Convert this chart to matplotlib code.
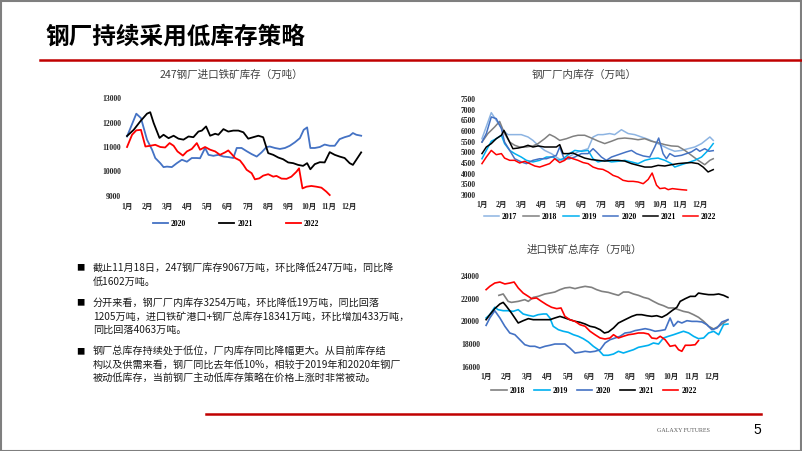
import matplotlib
matplotlib.use('Agg')
import matplotlib.pyplot as plt
from matplotlib.lines import Line2D
from matplotlib.patches import Rectangle

W, H = 802, 451

months = ['1月', '2月', '3月', '4月', '5月', '6月', '7月', '8月', '9月', '10月', '11月', '12月']

# ---- 247 steel mills imported ore stock (x in months from Jan) ----
c1_2020_x = [0, 0.46, 0.69, 0.99, 1.24, 1.40, 1.65, 1.81, 1.98, 2.22, 2.47, 2.72, 2.97, 3.21, 3.46, 3.62,
             3.87, 4.04, 4.28, 4.53, 4.78, 5.02, 5.27, 5.44, 5.68, 5.93, 6.18, 6.43, 6.67, 6.92, 7.08, 7.33,
             7.58, 7.83, 8.07, 8.32, 8.57, 8.76, 8.93, 9.09, 9.31, 9.56, 9.80, 10.05, 10.30, 10.54, 10.79,
             11.04, 11.20, 11.37, 11.61]
c1_2020 = [11430, 12360, 12180, 11300, 10890, 10550, 10340, 10180, 10200, 10180, 10340, 10480, 10400,
           10550, 10550, 10540, 10960, 10680, 10640, 10680, 10610, 10590, 10550, 10960, 10960, 10830,
           10710, 10610, 10780, 11000, 11020, 10960, 10920, 10960, 11050, 11190, 11360, 11700, 11800,
           10960, 10960, 11000, 11100, 11050, 11050, 11320, 11400, 11460, 11570, 11500, 11460]
c1_2021_x = [0, 0.33, 0.66, 0.99, 1.15, 1.32, 1.61, 1.81, 2.06, 2.31, 2.55, 2.80, 3.05, 3.29, 3.54, 3.71,
             3.92, 4.12, 4.37, 4.53, 4.78, 5.02, 5.27, 5.52, 5.77, 6.01, 6.26, 6.51, 6.75, 7.00, 7.25, 7.50,
             7.74, 7.99, 8.24, 8.48, 8.73, 8.93, 9.09, 9.31, 9.56, 9.80, 10.05, 10.30, 10.54, 10.79, 11.04,
             11.20, 11.37, 11.61]
c1_2021 = [11450, 11700, 12050, 12360, 12420, 11980, 11370, 11500, 11360, 11460, 11340, 11300, 11430,
           11400, 11630, 11670, 11840, 11460, 11540, 11500, 11730, 11630, 11670, 11670, 11600, 11340,
           11400, 11460, 11400, 10750, 10680, 10570, 10500, 10370, 10340, 10270, 10230, 10340, 10090,
           10300, 10380, 10370, 10790, 10680, 10610, 10550, 10340, 10270, 10480, 10780]
c1_2022_x = [0, 0.25, 0.46, 0.69, 0.91, 1.15, 1.40, 1.65, 1.89, 2.11, 2.31, 2.50, 2.77, 2.97, 3.21, 3.46,
             3.62, 3.87, 4.12, 4.37, 4.61, 4.86, 5.02, 5.19, 5.36, 5.60, 5.77, 5.93, 6.18, 6.34, 6.56, 6.75,
             7.00, 7.25, 7.41, 7.66, 7.91, 8.15, 8.40, 8.53, 8.70, 8.90, 9.14, 9.39, 9.64, 9.88, 10.05]
c1_2022 = [11000, 11500, 11680, 11700, 11020, 11050, 11090, 11000, 10980, 11160, 11050, 10820, 10650,
           10820, 10920, 11160, 10890, 11000, 10890, 10820, 10680, 10780, 10860, 10710, 10550, 10450,
           10270, 10070, 9930, 9680, 9720, 9830, 9890, 9790, 9820, 9710, 9700, 9790, 9990, 10130, 9310,
           9380, 9410, 9380, 9340, 9180, 9040]

# ---- steel mill in-plant stock ----
c2_2017_x = [0, 0.47, 0.72, 1.06, 1.31, 1.65, 1.98, 2.32, 2.57, 2.83, 3.16, 3.50, 3.75, 4.00, 4.26, 4.51,
             4.84, 5.35, 5.60, 5.85, 6.10, 6.44, 6.69, 7.03, 7.37, 7.70, 8.04, 8.38, 8.71, 9.05, 9.39, 9.72,
             10.06, 10.39, 10.73, 11.07, 11.49, 11.66]
c2_2017 = [5640, 6860, 6500, 6030, 5830, 5830, 5830, 5720, 5560, 5330, 5090, 4940, 4780, 4625, 4700, 4860,
           5020, 5170, 5720, 5830, 5830, 5880, 5830, 6060, 5880, 5830, 5720, 5610, 5480, 5330, 5170, 5050,
           5090, 5170, 5250, 5410, 5720, 5560]
c2_2018_x = [0, 0.30, 0.64, 0.89, 1.14, 1.40, 1.65, 1.90, 2.24, 2.57, 2.83, 3.16, 3.41, 3.67, 3.92, 4.26,
             4.59, 4.84, 5.18, 5.52, 5.85, 6.19, 6.53, 6.86, 7.20, 7.54, 7.87, 8.21, 8.54, 8.88, 9.22, 9.55,
             9.89, 10.23, 10.56, 10.90, 11.23, 11.49, 11.66]
c2_2018 = [5480, 5880, 6190, 6450, 5880, 5480, 5330, 5250, 5250, 5300, 5410, 5640, 5840, 5720, 5560, 5640,
           5750, 5800, 5800, 5670, 5530, 5410, 5520, 5640, 5670, 5640, 5590, 5640, 5520, 5450, 5360, 5300,
           5280, 5090, 4860, 4625, 4420, 4625, 4700]
c2_2019_x = [0, 0.22, 0.47, 0.72, 0.98, 1.14, 1.40, 1.65, 1.98, 2.24, 2.57, 2.91, 3.25, 3.58, 3.83, 4.09,
             4.42, 4.68, 5.01, 5.35, 5.60, 5.85, 6.19, 6.53, 6.86, 7.20, 7.54, 7.87, 8.21, 8.54, 8.88, 9.22,
             9.55, 9.72, 10.06, 10.39, 10.73, 11.07, 11.40, 11.66]
c2_2019 = [4700, 5090, 5520, 5640, 5800, 5410, 5090, 4940, 4780, 4625, 4550, 4625, 4780, 4780, 4625, 4700,
           4940, 5090, 5050, 5090, 4700, 4550, 4625, 4550, 4580, 4625, 4550, 4470, 4625, 4700, 4730, 4625,
           4470, 4310, 4420, 4520, 4625, 4780, 5090, 5410]
c2_2020_x = [0, 0.22, 0.47, 0.72, 0.98, 1.14, 1.40, 1.65, 1.98, 2.24, 2.57, 2.91, 3.25, 3.50, 3.75, 3.92,
             4.14, 4.42, 4.68, 5.01, 5.35, 5.60, 5.77, 6.02, 6.27, 6.53, 6.78, 7.03, 7.28, 7.54, 7.79, 8.13,
             8.46, 8.71, 8.91, 9.13, 9.30, 9.47, 9.72, 10.06, 10.31, 10.56, 10.81, 10.98, 11.23, 11.45, 11.66]
c2_2020 = [5480, 5880, 6660, 6580, 6110, 5480, 5090, 4700, 4550, 4470, 4625, 4700, 4700, 4780, 4860, 5250,
           4700, 4700, 4780, 4940, 4940, 5170, 5020, 4780, 4625, 4780, 4860, 4940, 5020, 5090, 4940, 4830,
           4780, 5250, 5670, 4940, 4700, 4940, 4810, 4860, 4940, 5020, 5170, 5050, 5170, 5050, 5080]
c2_2021_x = [0, 0.22, 0.47, 0.72, 0.98, 1.11, 1.31, 1.56, 1.82, 2.07, 2.32, 2.57, 2.83, 3.16, 3.50, 3.75,
             3.92, 4.09, 4.34, 4.59, 4.84, 5.18, 5.52, 5.85, 6.19, 6.53, 6.86, 7.20, 7.54, 7.87, 8.21, 8.54,
             8.88, 9.22, 9.55, 9.89, 10.23, 10.56, 10.90, 11.15, 11.40, 11.66]
c2_2021 = [4940, 5250, 5410, 5640, 5800, 6030, 5640, 5170, 5200, 5250, 5330, 5250, 5300, 5250, 5250, 5250,
           5360, 4940, 4940, 4970, 4860, 4730, 4660, 4625, 4590, 4625, 4625, 4590, 4470, 4390, 4310, 4310,
           4390, 4360, 4420, 4470, 4500, 4520, 4470, 4310, 4080, 4190]
c2_2022_x = [0, 0.22, 0.47, 0.72, 0.98, 1.14, 1.40, 1.65, 1.90, 2.15, 2.41, 2.66, 2.91, 3.16, 3.41, 3.67,
             3.92, 4.17, 4.34, 4.59, 4.84, 5.10, 5.35, 5.60, 5.85, 6.10, 6.36, 6.61, 6.86, 7.11, 7.37, 7.62,
             7.87, 8.13, 8.38, 8.58, 8.80, 8.97, 9.22, 9.39, 9.60, 9.86, 10.06, 10.31]
c2_2022 = [4470, 4780, 5090, 4890, 4940, 4730, 4625, 4625, 4500, 4580, 4470, 4360, 4310, 4390, 4470, 4700,
           4520, 4625, 4780, 4700, 4625, 4520, 4470, 4310, 4230, 4200, 4080, 3920, 3840, 3690, 3640, 3640,
           3610, 3530, 3730, 4030, 3460, 3300, 3330, 3250, 3300, 3270, 3250, 3230]

# ---- imported ore total stock ----
c3_2018_x = [0.62, 0.83, 1.07, 1.23, 1.56, 1.88, 2.05, 2.29, 2.53, 2.86, 3.10, 3.34, 3.59, 3.83, 4.07, 4.32,
             4.56, 4.81, 5.13, 5.37, 5.62, 5.94, 6.19, 6.43, 6.67, 6.92, 7.16, 7.40, 7.65, 7.89, 8.13, 8.38,
             8.62, 8.86, 9.11, 9.35, 9.59, 9.84, 10.08, 10.32, 10.57, 10.81, 11.06, 11.30, 11.54, 11.75]
c3_2018 = [22300, 22420, 21770, 21680, 21770, 21920, 21770, 22120, 22210, 22420, 22500, 22590, 22800,
           22950, 23000, 22890, 23000, 23090, 23000, 22800, 22650, 22560, 22420, 22300, 22590, 22590,
           22420, 22300, 22120, 22010, 21770, 21540, 21390, 21190, 21190, 21040, 20890, 20800, 20600,
           20370, 20015, 19580, 19340, 19580, 19870, 20160]
c3_2019_x = [0, 0.18, 0.42, 0.58, 0.83, 1.07, 1.31, 1.56, 1.80, 2.05, 2.29, 2.53, 2.78, 2.94, 3.10, 3.26,
             3.51, 3.75, 3.99, 4.24, 4.48, 4.72, 4.97, 5.21, 5.45, 5.70, 5.94, 6.19, 6.43, 6.67, 6.92, 7.16,
             7.40, 7.65, 7.89, 8.13, 8.38, 8.62, 8.86, 9.11, 9.35, 9.59, 9.84, 10.08, 10.32, 10.57, 10.81,
             11.06, 11.30, 11.54, 11.75]
c3_2019 = [20310, 20600, 21250, 21040, 20950, 20950, 20890, 21040, 20660, 20540, 20450, 20600, 20660,
           20660, 20310, 19580, 19280, 19140, 19050, 18840, 18700, 18490, 18200, 17820, 17520, 17030,
           17030, 17140, 17380, 17230, 17380, 17520, 17730, 17820, 17910, 18110, 18020, 18550, 18700,
           18840, 18990, 19140, 18990, 18700, 18490, 18550, 18990, 19140, 18840, 19720, 19780]
c3_2020_x = [0, 0.18, 0.42, 0.67, 0.91, 1.15, 1.40, 1.64, 1.88, 2.13, 2.37, 2.61, 2.86, 3.10, 3.34, 3.59,
             3.83, 4.07, 4.32, 4.56, 4.81, 5.05, 5.29, 5.54, 5.78, 6.02, 6.27, 6.51, 6.75, 7.00, 7.24, 7.48,
             7.73, 7.97, 8.21, 8.46, 8.70, 8.94, 9.11, 9.32, 9.51, 9.76, 10.00, 10.24, 10.49, 10.73, 10.97,
             11.22, 11.46, 11.75]
c3_2020 = [19660, 20310, 20950, 20310, 19580, 18990, 18840, 18400, 17960, 17820, 17820, 17670, 17820,
           17910, 18020, 18020, 18020, 17670, 17230, 17290, 17380, 17320, 17380, 17520, 18110, 18400,
           18550, 18700, 18990, 19050, 19200, 19280, 19370, 19280, 19140, 19200, 19280, 20310, 19580,
           20010, 19870, 20070, 20010, 20010, 19960, 19720, 19280, 19430, 19960, 20160]
c3_2021_x = [0, 0.18, 0.42, 0.67, 0.83, 0.99, 1.23, 1.56, 1.80, 2.05, 2.29, 2.53, 2.86, 3.10, 3.34, 3.59,
             3.83, 4.07, 4.32, 4.56, 4.81, 5.05, 5.29, 5.54, 5.75, 5.94, 6.19, 6.43, 6.75, 7.08, 7.32, 7.56,
             7.81, 8.05, 8.29, 8.54, 8.78, 9.03, 9.27, 9.43, 9.68, 9.92, 10.16, 10.32, 10.57, 10.81, 11.06,
             11.30, 11.54, 11.75]
c3_2021 = [20160, 20600, 21130, 21540, 21680, 21330, 20750, 19870, 20070, 20250, 20160, 20160, 20160,
           20160, 20310, 20450, 20310, 20160, 20015, 19930, 19780, 19580, 19490, 19280, 18990, 19080,
           19430, 19870, 20160, 20450, 20600, 20600, 20510, 20450, 20510, 20370, 20600, 20950, 21250,
           21770, 22010, 22210, 22210, 22500, 22420, 22360, 22360, 22420, 22300, 22120]
c3_2022_x = [0, 0.18, 0.42, 0.67, 0.91, 1.15, 1.36, 1.56, 1.80, 2.05, 2.21, 2.45, 2.69, 2.94, 3.18, 3.43,
             3.64, 3.83, 4.07, 4.32, 4.56, 4.81, 5.05, 5.29, 5.54, 5.78, 6.02, 6.19, 6.43, 6.67, 6.92, 7.16,
             7.40, 7.65, 7.89, 8.05, 8.29, 8.46, 8.70, 8.94, 9.19, 9.35, 9.51, 9.68, 9.92, 10.16, 10.32]
c3_2022 = [22800, 23090, 23380, 23470, 23300, 23380, 23470, 22950, 22500, 22210, 22010, 22070, 21770,
           21480, 21250, 21130, 21190, 20450, 20160, 20015, 19720, 19580, 19140, 18840, 18550, 18460,
           18550, 18840, 18550, 18700, 18840, 18900, 18990, 18990, 18900, 18550, 18490, 18700, 18400,
           17820, 17910, 17520, 17380, 17910, 17910, 17960, 18320]

bullets = [
    ['截止11月18日，247钢厂库存9067万吨，环比降低247万吨，同比降',
     '低1602万吨。'],
    ['分开来看，钢厂厂内库存3254万吨，环比降低19万吨，同比回落',
     '1205万吨，进口铁矿港口+钢厂总库存18341万吨，环比增加433万吨，',
     '同比回落4063万吨。'],
    ['钢厂总库存持续处于低位，厂内库存同比降幅更大。从目前库存结',
     '构以及供需来看，钢厂同比去年低10%，相较于2019年和2020年钢厂',
     '被动低库存，当前钢厂主动低库存策略在价格上涨时非常被动。'],
]

RED = '#FF0000'
BLUE = '#4472C4'
CJK = ['Noto Sans CJK SC', 'DejaVu Sans']
SERIF = ['Liberation Serif', 'Noto Sans CJK SC']


def box(fig, l, t, r, b):
    return fig.add_axes([l / W, 1 - b / H, (r - l) / W, (b - t) / H])


def style(ax, xlim, ylim, yticks, xpad):
    ax.set_xlim(*xlim)
    ax.set_ylim(*ylim)
    ax.set_xticks(range(12))
    ax.set_xticklabels(months)
    ax.set_yticks(yticks)
    for s in ax.spines.values():
        s.set_visible(False)
    ax.patch.set_alpha(0)
    ax.tick_params(length=0, labelsize=5.5, labelcolor='#262626')
    ax.tick_params(axis='y', pad=1.5)
    ax.tick_params(axis='x', pad=xpad)
    for lbl in ax.get_xticklabels() + ax.get_yticklabels():
        lbl.set_fontfamily(SERIF)
        lbl.set_fontweight('bold')


def legend(fig, ax, cx, cy, colspace):
    ax.legend(loc='center', bbox_to_anchor=(cx / W, 1 - cy / H), bbox_transform=fig.transFigure,
              ncol=6, frameon=False, handlelength=2.0, handletextpad=0.4, columnspacing=colspace,
              borderpad=0, borderaxespad=0,
              prop={'family': SERIF, 'weight': 'bold', 'size': 5.5})


def main():
    fig = plt.figure(figsize=(W / 100, H / 100), dpi=100)
    fig.patch.set_facecolor('white')

    # frame + title + rules
    fig.patches.append(Rectangle((0.5 / W, 0.5 / H), 1 - 1.5 / W, 1 - 1.5 / H, transform=fig.transFigure,
                                 fill=False, edgecolor='#7F7F7F', lw=1.5))
    fig.text(45 / W, 1 - 37 / H, '钢厂持续采用低库存策略', family=CJK, weight='bold', fontsize=17,
             va='center', ha='left', color='black')
    fig.lines.append(Line2D([40 / W, 1], [1 - 60 / H] * 2, transform=fig.transFigure, color='#C00000', lw=1.8))
    fig.lines.append(Line2D([206 / W, 761 / W], [1 - 414 / H] * 2, transform=fig.transFigure,
                            color='#C00000', lw=1.8))
    fig.text(683 / W, 1 - 430 / H, 'GALAXY FUTURES', family=SERIF, fontsize=4.3, color='#595959',
             ha='center', va='center')
    fig.text(757 / W, 1 - 430 / H, '5', family=['Liberation Sans'], fontsize=10, color='black',
             ha='center', va='center')

    # chart 1
    ax1 = box(fig, 123, 98, 365, 196)
    ax1.plot(c1_2020_x, c1_2020, color=BLUE, lw=1.3, label='2020', clip_on=False)
    ax1.plot(c1_2021_x, c1_2021, color='black', lw=1.3, label='2021', clip_on=False)
    ax1.plot(c1_2022_x, c1_2022, color=RED, lw=1.3, label='2022', clip_on=False)
    style(ax1, (-0.2, 11.8), (9000, 13000), range(9000, 13001, 1000), 5)
    legend(fig, ax1, 236, 224, 4.3)
    fig.text(231 / W, 1 - 75 / H, '247钢厂进口铁矿库存（万吨）', family=CJK, fontsize=7.6,
             color='#404040', ha='center', va='center')

    # chart 2
    ax2 = box(fig, 478, 99, 718, 195)
    ax2.plot(c2_2017_x, c2_2017, color='#8DB4E2', lw=1.1, label='2017', clip_on=False)
    ax2.plot(c2_2018_x, c2_2018, color='#808080', lw=1.1, label='2018', clip_on=False)
    ax2.plot(c2_2019_x, c2_2019, color='#00B0F0', lw=1.1, label='2019', clip_on=False)
    ax2.plot(c2_2020_x, c2_2020, color=BLUE, lw=1.1, label='2020', clip_on=False)
    ax2.plot(c2_2021_x, c2_2021, color='black', lw=1.1, label='2021', clip_on=False)
    ax2.plot(c2_2022_x, c2_2022, color=RED, lw=1.1, label='2022', clip_on=False)
    style(ax2, (-0.2, 11.9), (3000, 7500), range(3000, 7501, 500), 4.3)
    legend(fig, ax2, 600, 217, 0.8)
    fig.text(584 / W, 1 - 75 / H, '钢厂厂内库存（万吨）', family=CJK, fontsize=7.6,
             color='#404040', ha='center', va='center')

    # chart 3
    ax3 = box(fig, 482, 276, 731, 367)
    ax3.plot(c3_2018_x, c3_2018, color='#808080', lw=1.2, label='2018', clip_on=False)
    ax3.plot(c3_2019_x, c3_2019, color='#00B0F0', lw=1.2, label='2019', clip_on=False)
    ax3.plot(c3_2020_x, c3_2020, color=BLUE, lw=1.2, label='2020', clip_on=False)
    ax3.plot(c3_2021_x, c3_2021, color='black', lw=1.2, label='2021', clip_on=False)
    ax3.plot(c3_2022_x, c3_2022, color=RED, lw=1.2, label='2022', clip_on=False)
    style(ax3, (-0.2, 11.9), (16000, 24000), range(16000, 24001, 2000), 4.3)
    legend(fig, ax3, 594, 391, 1.2)
    fig.text(584 / W, 1 - 250 / H, '进口铁矿总库存（万吨）', family=CJK, fontsize=7.6,
             color='#404040', ha='center', va='center')

    # bullet text
    line_y = [[268, 282], [303, 317, 330], [352, 365, 378]]
    for para, ys in zip(bullets, line_y):
        fig.text(80 / W, 1 - ys[0] / H, '■', family=CJK, fontsize=6, color='black', ha='center', va='center')
        for txt, y in zip(para, ys):
            fig.text(93 / W, 1 - y / H, txt, family=CJK, fontsize=7.25, color='#1A1A1A',
                     ha='left', va='center')

    fig.savefig('out.png', dpi=100, facecolor='white')


if __name__ == '__main__':
    main()
